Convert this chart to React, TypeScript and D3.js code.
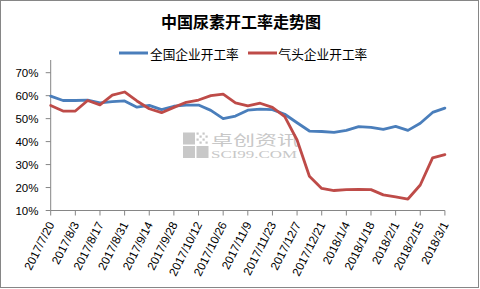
import React from "react";
import * as d3 from "d3";

const categories = [
  "2017/7/20", "2017/7/27", "2017/8/3", "2017/8/10", "2017/8/17", "2017/8/24", "2017/8/31",
  "2017/9/7", "2017/9/14", "2017/9/21", "2017/9/28", "2017/10/5", "2017/10/12", "2017/10/19",
  "2017/10/26", "2017/11/2", "2017/11/9", "2017/11/16", "2017/11/23", "2017/11/30", "2017/12/7",
  "2017/12/14", "2017/12/21", "2017/12/28", "2018/1/4", "2018/1/11", "2018/1/18", "2018/1/25",
  "2018/2/1", "2018/2/8", "2018/2/15", "2018/2/22", "2018/3/1",
];

const nationalRate = [
  59.8, 57.9, 57.9, 58.1, 56.9, 57.4, 57.7, 55.0, 55.8, 53.9, 55.4, 55.9, 55.9, 53.6, 50.0,
  51.1, 53.7, 54.1, 53.9, 51.9, 48.2, 44.6, 44.4, 44.0, 44.9, 46.5, 46.2, 45.3, 46.6, 44.9,
  48.0, 52.7, 54.6,
];

const gasRate = [
  55.7, 53.3, 53.3, 57.9, 56.0, 60.2, 61.6, 57.7, 54.3, 52.6, 54.9, 57.1, 58.1, 60.0, 60.7,
  56.9, 55.6, 56.7, 54.9, 50.9, 40.7, 24.9, 19.6, 18.7, 19.1, 19.2, 19.1, 16.8, 15.9, 15.0,
  21.1, 32.9, 34.3,
];

const yTicks = [10, 20, 30, 40, 50, 60, 70];
const seriesNames = ["全国企业开工率", "气头企业开工率"];
const seriesColors = ["#4a7ebb", "#be4b48"];
const titleText = "中国尿素开工率走势图";

export default function App() {
  const W = 480;
  const H = 289;
  const x0 = 50.7;
  const x1 = 444.9;
  const yBottom = 210.5;
  const yTop = 60;

  const x = d3.scaleLinear().domain([0, categories.length - 1]).range([x0, x1]);
  const y = d3.scaleLinear().domain([10, 70]).range([yBottom, 72.7]);

  const line = d3
    .line<number>()
    .x((_, i) => x(i))
    .y((d) => y(d))
    .curve(d3.curveLinear);

  const cjk = "'Noto Sans CJK SC', sans-serif";
  const latin = "'Liberation Sans', Arial, sans-serif";
  const axisColor = "#868686";

  const labelIdx = categories.map((_, i) => i).filter((i) => i % 2 === 0);

  return (
    <svg
      width={W}
      height={H}
      style={{ position: "absolute", left: 0, top: 0, background: "#fff" }}
    >
      <rect x={0} y={0} width={W} height={H} fill="#fff" />
      <rect x={0.5} y={0.5} width={478} height={287} fill="none" stroke={axisColor} strokeWidth={1} />

      <text x={241} y={21} textAnchor="middle" dominantBaseline="central" fontFamily={cjk} fontWeight="bold" fontSize={16} fill="#000">
        {titleText}
      </text>

      {/* legend */}
      <line x1={119} x2={148} y1={53} y2={53} stroke={seriesColors[0]} strokeWidth={3} />
      <text x={150} y={53} dominantBaseline="central" fontFamily={cjk} fontSize={12.7} fill="#000">
        {seriesNames[0]}
      </text>
      <line x1={248} x2={277} y1={53} y2={53} stroke={seriesColors[1]} strokeWidth={3} />
      <text x={278.5} y={53} dominantBaseline="central" fontFamily={cjk} fontSize={12.7} fill="#000">
        {seriesNames[1]}
      </text>

      {/* watermark */}
      <g fill="#c8c8c8">
        <rect x={183} y={132.5} width={12} height={12} />
        <rect x={183} y={146} width={12} height={12} />
        <rect x={196.5} y={146} width={12} height={12} />
        {[0, 1, 2, 3].map((r) =>
          [0, 1, 2, 3].map((c) =>
            (r + c) % 2 === 0 ? (
              <rect key={`${r}-${c}`} x={196.5 + c * 3} y={132.5 + r * 3} width={2.2} height={2.2} />
            ) : null
          )
        )}
        <text x={211} y={144.5} fontFamily={cjk} fontSize={14} textLength={88} lengthAdjust="spacingAndGlyphs">
          卓创资讯
        </text>
        <text x={211} y={157.5} fontFamily="'Liberation Serif', serif" fontSize={11} textLength={86} lengthAdjust="spacingAndGlyphs">
          SCI99.COM
        </text>
      </g>

      {/* y axis */}
      <line x1={x0} x2={x0} y1={yTop} y2={yBottom} stroke={axisColor} strokeWidth={1} />
      {yTicks.map((t) => (
        <g key={t}>
          <line x1={x0 - 5} x2={x0} y1={y(t)} y2={y(t)} stroke={axisColor} strokeWidth={1} />
          <text x={38.5} y={y(t)} textAnchor="end" dominantBaseline="central" fontFamily={latin} fontSize={11.5} fill="#000">
            {t}%
          </text>
        </g>
      ))}

      {/* x axis */}
      <line x1={x0} x2={x1} y1={yBottom} y2={yBottom} stroke={axisColor} strokeWidth={1} />
      {labelIdx.map((i) => (
        <g key={i}>
          <line x1={x(i)} x2={x(i)} y1={yBottom} y2={yBottom + 5} stroke={axisColor} strokeWidth={1} />
          <text
            transform={`translate(${x(i) + 0.5},${222.5}) rotate(-63)`}
            textAnchor="end"
            dominantBaseline="central"
            fontFamily={latin}
            fontSize={11.8}
            fill="#000"
          >
            {categories[i]}
          </text>
        </g>
      ))}

      {/* series */}
      <path d={line(nationalRate) || ""} fill="none" stroke={seriesColors[0]} strokeWidth={2.8} strokeLinejoin="round" strokeLinecap="round" />
      <path d={line(gasRate) || ""} fill="none" stroke={seriesColors[1]} strokeWidth={2.8} strokeLinejoin="round" strokeLinecap="round" />
    </svg>
  );
}
